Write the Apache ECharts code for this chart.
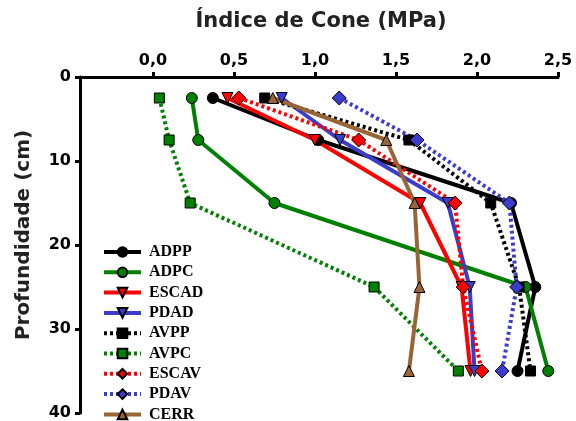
<!DOCTYPE html>
<html>
<head>
<meta charset="utf-8">
<script src="https://cdn.jsdelivr.net/npm/echarts@6/dist/echarts.min.js"></script>
<style>html,body{margin:0;padding:0;background:#fff}#c{width:576px;height:421px}</style>
</head>
<body>
<div id="c"></div>
<script>
// Data
const depths = [2.5, 7.5, 15, 25, 35];
const xTicks = [0, 0.5, 1.0, 1.5, 2.0, 2.5];
const yTicks = [0, 10, 20, 30, 40];
const seriesNames = ['ADPP','ADPC','ESCAD','PDAD','AVPP','AVPC','ESCAV','PDAV','CERR'];
const ADPP  = [0.37, 1.02, 2.21, 2.36, 2.25];
const ADPC  = [0.24, 0.28, 0.75, 2.30, 2.44];
const ESCAD = [0.46, 1.00, 1.65, 1.905, 1.96];
const PDAD  = [0.795, 1.155, 1.82, 1.955, 1.985];
const AVPP  = [0.69, 1.58, 2.085, 2.26, 2.33];
const AVPC  = [0.04, 0.10, 0.23, 1.365, 1.885];
const ESCAV = [0.53, 1.27, 1.865, 1.915, 2.03];
const PDAV  = [1.15, 1.63, 2.20, 2.245, 2.155];
const CERR  = [0.74, 1.44, 1.615, 1.645, 1.58];

const values = {ADPP, ADPC, ESCAD, PDAD, AVPP, AVPC, ESCAV, PDAV, CERR};
const styles = {
  ADPP:  {color:'#000000', dash:'solid',  symbol:'circle',   size:11, rot:0},
  ADPC:  {color:'#008000', dash:'solid',  symbol:'circle',   size:11, rot:0},
  ESCAD: {color:'#ff0000', dash:'solid',  symbol:'triangle', size:11, rot:180},
  PDAD:  {color:'#3b3bcc', dash:'solid',  symbol:'triangle', size:11, rot:180},
  AVPP:  {color:'#000000', dash:[3,3],    symbol:'rect',     size:10, rot:0},
  AVPC:  {color:'#008000', dash:[3,3],    symbol:'rect',     size:10, rot:0},
  ESCAV: {color:'#ff0000', dash:[3,3],    symbol:'diamond',  size:14, rot:0},
  PDAV:  {color:'#3b3bcc', dash:[3,3],    symbol:'diamond',  size:14, rot:0},
  CERR:  {color:'#9a6535', dash:'solid',  symbol:'triangle', size:11, rot:0}
};

const chart = echarts.init(document.getElementById('c'), null, {renderer:'canvas'});
const fmt = v => v.toFixed(1).replace('.', ',');
const series = seriesNames.map(n => {
  const s = styles[n];
  return {
    name: n, type: 'line',
    data: values[n].map((x, i) => [x, depths[i]]),
    symbol: s.symbol, symbolSize: s.size, symbolRotate: s.rot,
    lineStyle: {color: s.color, width: 4, type: s.dash, cap: 'butt'},
    itemStyle: {color: s.color, borderColor: '#000', borderWidth: 1},
    emphasis: {disabled: true},
    animation: false
  };
});

chart.setOption({
  animation: false,
  grid: {left: 80, top: 77, width: 478, height: 337, containLabel: false},
  xAxis: {
    type: 'value', position: 'top', min: -0.45, max: 2.5,
    axisLine: {onZero: false, lineStyle: {color: '#000', width: 3}},
    axisTick: {show: true, length: 5, customValues: xTicks, lineStyle: {color:'#000', width: 3}},
    axisLabel: {customValues: xTicks, formatter: fmt, color: '#000', fontFamily: 'DejaVu Sans', fontWeight: 'bold', fontSize: 16, margin: 8},
    splitLine: {show: false}
  },
  yAxis: {
    type: 'value', inverse: true, min: 0, max: 40, interval: 10,
    axisLine: {onZero: false, lineStyle: {color: '#000', width: 3}},
    axisTick: {show: true, length: 5, lineStyle: {color:'#000', width: 3}},
    axisLabel: {color: '#000', fontFamily: 'DejaVu Sans', fontWeight: 'bold', fontSize: 16, margin: 9},
    splitLine: {show: false}
  },
  legend: {
    orient: 'vertical', left: 102, top: 244, height: 260, padding: 0,
    itemWidth: 37, itemHeight: 12, itemGap: 4.3,
    data: seriesNames,
    lineStyle: {width: 4},
    textStyle: {fontFamily: 'Liberation Serif', fontWeight: 'bold', fontSize: 16, color: '#000', padding: [0,0,0,3]}
  },
  graphic: [
    {type: 'text', x: 321, y: 22, style: {text: 'Índice de Cone (MPa)', font: 'bold 21px "DejaVu Sans"', fill: '#222', textAlign: 'center', textVerticalAlign: 'middle'}},
    {type: 'text', rotation: Math.PI/2, x: 24, y: 235, style: {text: 'Profundidade (cm)', font: 'bold 20px "DejaVu Sans"', fill: '#222', textAlign: 'center', textVerticalAlign: 'middle'}}
  ],
  series: series
});
</script>
</body>
</html>
